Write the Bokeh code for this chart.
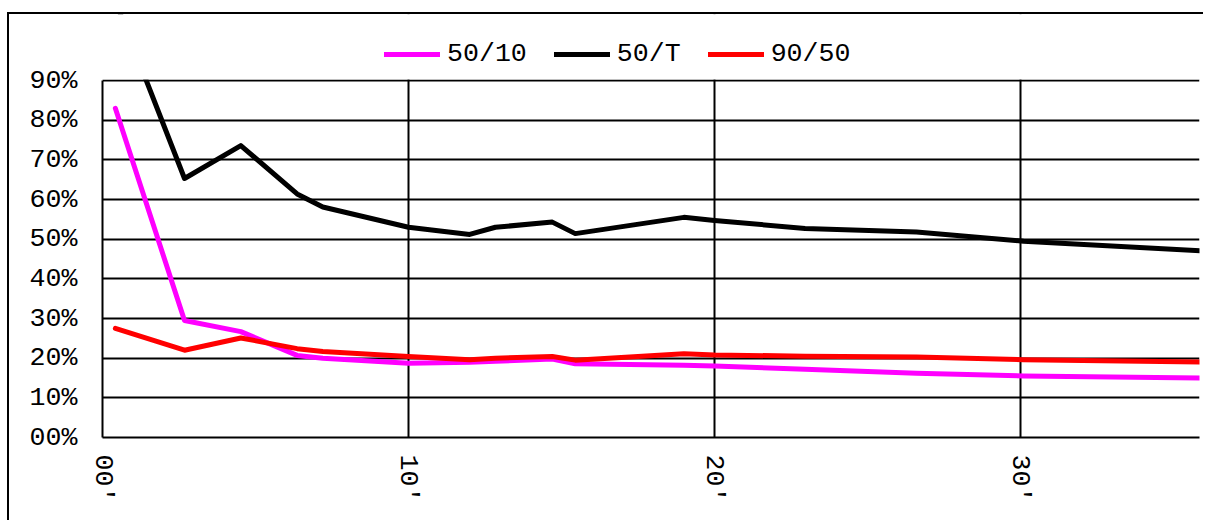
from bokeh.plotting import figure
from bokeh.models import (Range1d, FixedTicker, CustomJSTickFormatter, Legend, LegendItem, BoxAnnotation)
from bokeh.embed import file_html
from bokeh.resources import INLINE
import math

# ---- data ----
x_vals = [0.42, 2.68, 4.52, 6.36, 7.2, 10.0, 12.0, 12.84, 14.7, 15.45, 19.0, 20.0, 22.96, 26.6, 30.1, 36.0]
s_50_10 = [83.0, 29.5, 26.7, 20.7, 20.0, 18.7, 19.0, 19.2, 19.8, 18.6, 18.2, 18.0, 17.2, 16.2, 15.5, 15.0]
s_50_T = [110.0, 65.3, 73.6, 61.4, 58.1, 53.0, 51.2, 53.0, 54.3, 51.4, 55.5, 54.7, 52.7, 51.8, 49.5, 47.0]
s_90_50 = [27.5, 22.0, 25.1, 22.4, 21.7, 20.4, 19.6, 20.0, 20.4, 19.5, 21.1, 20.8, 20.5, 20.3, 19.6, 19.0]
series_names = ["50/10", "50/T", "90/50"]
series_colors = ["#FF00FF", "#000000", "#FF0000"]
y_ticks = [0, 10, 20, 30, 40, 50, 60, 70, 80, 90]
x_ticks = [0, 10, 20, 30]

FONT = "Liberation Mono"
FS = "26.6px"

Y_MAX = 90.0
X_MAX = 35.85
PX_PER_UNIT = 357.0 / Y_MAX
TOP_PAD_PX = 66  # frame extends above the 90% line to host the legend
y_top = Y_MAX + TOP_PAD_PX / PX_PER_UNIT

p = figure(width=1196, height=508, output_backend="svg", toolbar_location=None,
           x_range=Range1d(0, X_MAX), y_range=Range1d(0, y_top),
           min_border_left=93, min_border_right=6, min_border_top=0, min_border_bottom=85)
p.styles = {"margin-left": "7px", "margin-top": "12px", "overflow": "hidden",
            "border-left": "2px solid black", "border-top": "2px solid black",
            "border-right": "none", "border-bottom": "none"}
p.outline_line_color = None
p.background_fill_color = "white"
p.border_fill_color = "white"

# grids
p.xgrid.ticker = FixedTicker(ticks=x_ticks)
p.ygrid.ticker = FixedTicker(ticks=y_ticks)
for g in (p.xgrid[0], p.ygrid[0]):
    g.grid_line_color = "black"
    g.grid_line_width = 2
    g.grid_line_alpha = 1.0

# axes
p.yaxis.ticker = FixedTicker(ticks=y_ticks)
p.xaxis.ticker = FixedTicker(ticks=x_ticks)
p.yaxis.bounds = (0, Y_MAX)
p.yaxis.formatter = CustomJSTickFormatter(code="return String(Math.round(tick)).padStart(2,'0') + '%';")
p.xaxis.formatter = CustomJSTickFormatter(code="return String(Math.round(tick)).padStart(2,'0') + '\u2032';")
for ax in (p.xaxis[0], p.yaxis[0]):
    ax.axis_line_color = "black"
    ax.axis_line_width = 2
    ax.major_tick_line_color = None
    ax.minor_tick_line_color = None
    ax.major_tick_out = 0
    ax.major_tick_in = 0
    ax.major_label_text_font = FONT
    ax.major_label_text_font_size = FS
    ax.major_label_text_color = "black"
p.yaxis.major_label_standoff = 25
p.xaxis.major_label_standoff = 17
p.xaxis.major_label_orientation = -math.pi / 2

renderers = []
for ys, c in zip([s_50_10, s_50_T, s_90_50], series_colors):
    r = p.line(x_vals, ys, line_color=c, line_width=5, line_cap="round", line_join="round")
    renderers.append(r)

# mask above the 90% line (plot area ends there)
mask = BoxAnnotation(left=0, right=X_MAX + 1, bottom=Y_MAX + 1.05 / PX_PER_UNIT, top=y_top + 20,
                     fill_color="white", fill_alpha=1.0, line_color=None, level="annotation")
p.add_layout(mask)

legend = Legend(items=[LegendItem(label=n, renderers=[r]) for n, r in zip(series_names, renderers)],
                orientation="horizontal", location=(282, 368),
                label_text_font=FONT, label_text_font_size=FS, label_text_color="black",
                glyph_width=56, glyph_height=30, label_height=30, spacing=27, label_standoff=7,
                padding=0, margin=0, border_line_color=None, background_fill_alpha=0)
p.add_layout(legend)

open("out.html", "w").write(file_html(p, INLINE))
